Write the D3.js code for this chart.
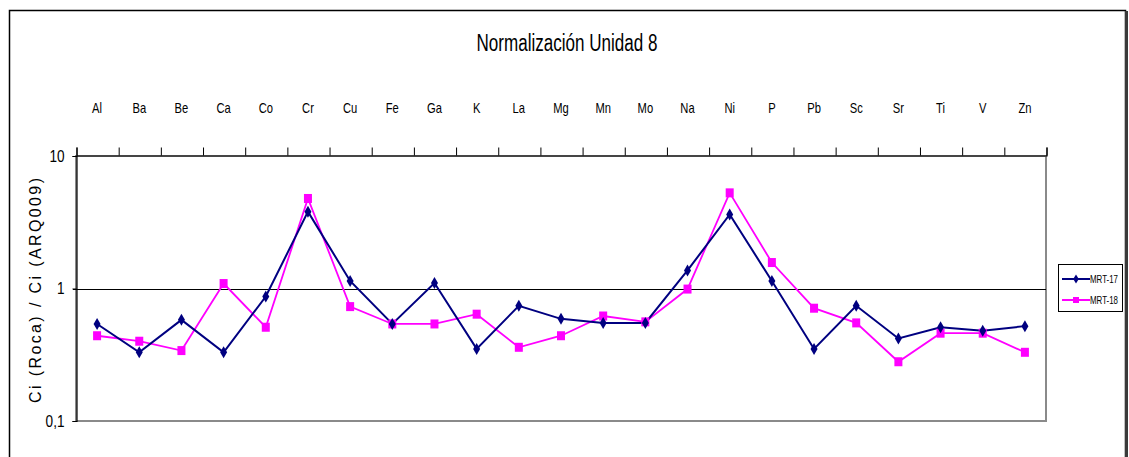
<!DOCTYPE html>
<html>
<head>
<meta charset="utf-8">
<script src="https://cdn.jsdelivr.net/npm/d3@7"></script>
<style>
  body { margin: 0; background: #fff; }
  text { font-family: "Liberation Sans Narrow", "Arial Narrow", "Liberation Sans", Arial, sans-serif; }
</style>
</head>
<body>
<div id="chart"></div>
<script>
// element labels along the top axis
const elements = ['Al', 'Ba', 'Be', 'Ca', 'Co', 'Cr', 'Cu', 'Fe', 'Ga', 'K', 'La', 'Mg', 'Mn', 'Mo',
    'Na', 'Ni', 'P', 'Pb', 'Sc', 'Sr', 'Ti', 'V', 'Zn'];

// Ci(Roca) / Ci(ARQ009)
const mrt17 = [0.54, 0.33, 0.58, 0.33, 0.87, 3.8, 1.14, 0.54, 1.10, 0.35, 0.74, 0.59, 0.55, 0.55,
    1.37, 3.62, 1.14, 0.35, 0.74, 0.42, 0.51, 0.48, 0.52];
const mrt18 = [0.44, 0.40, 0.34, 1.09, 0.51, 4.78, 0.73, 0.54, 0.54, 0.64, 0.36, 0.44, 0.62, 0.56,
    0.99, 5.27, 1.57, 0.71, 0.55, 0.28, 0.46, 0.46, 0.33];

const yTicks = [0.1, 1, 10];
const seriesNames = ['MRT-17', 'MRT-18'];

const width = 1129, height = 457;
const plot = { left: 76, right: 1046, top: 156, bottom: 421 };
const narrow = 0.8;   // no narrow font installed, squeeze text instead

const svg = d3.select('#chart').append('svg')
    .attr('width', width)
    .attr('height', height);

// outer chart frame
svg.append('rect')
    .attr('x', 9.5).attr('y', 10.5)
    .attr('width', 1116).attr('height', 470)
    .attr('fill', 'none')
    .attr('stroke', '#000')
    .attr('stroke-width', 1.5);
svg.append('line')
    .attr('x1', 1126.5).attr('x2', 1126.5)
    .attr('y1', 11).attr('y2', height)
    .attr('stroke', '#3a3a3a')
    .attr('stroke-width', 3);

// title
svg.append('text')
    .attr('x', 567).attr('y', 51)
    .attr('text-anchor', 'middle')
    .attr('font-size', '23px')
    .attr('textLength', 181)
    .attr('lengthAdjust', 'spacingAndGlyphs')
    .text('Normalización Unidad 8');

// scales
const x = d3.scaleBand()
    .domain(elements)
    .range([plot.left, plot.right]);
const xEdge = d3.scaleLinear()
    .domain([0, elements.length])
    .range([plot.left, plot.right]);
const y = d3.scaleLog()
    .domain([0.1, 10])
    .range([plot.bottom, plot.top]);
const cx = d => x(d) + x.bandwidth() / 2;

// plot area border (grey)
svg.append('rect')
    .attr('x', plot.left).attr('y', plot.top)
    .attr('width', plot.right - plot.left).attr('height', plot.bottom - plot.top)
    .attr('fill', 'none')
    .attr('stroke', '#8a8a8a')
    .attr('stroke-width', 2);

// gridline at 1
svg.append('line')
    .attr('x1', plot.left - 3).attr('x2', plot.right)
    .attr('y1', Math.round(y(1)) + 0.5).attr('y2', Math.round(y(1)) + 0.5)
    .attr('stroke', '#000')
    .attr('stroke-width', 1);

// top category axis: boundary ticks
const edgeAxis = svg.append('g')
    .attr('transform', `translate(0.5,${plot.top - 0.5})`)
    .call(d3.axisTop(xEdge).tickValues(d3.range(elements.length + 1)).tickSize(8).tickFormat(''));
edgeAxis.select('.domain').attr('stroke', '#000').attr('stroke-width', 1.2);
edgeAxis.selectAll('.tick line').attr('stroke', '#000');

// top category axis: labels in the middle of each band
const labelAxis = svg.append('g')
    .attr('transform', `translate(0,${plot.top})`)
    .call(d3.axisTop(x).tickSize(0).tickPadding(43));
labelAxis.select('.domain').remove();
labelAxis.selectAll('text')
    .attr('font-size', '14px')
    .attr('fill', '#000')
    .attr('transform', `scale(${narrow},1)`);

// left log axis
const yAxis = svg.append('g')
    .attr('transform', `translate(${plot.left + 0.5},0)`)
    .call(d3.axisLeft(y).tickValues(yTicks).tickSize(4).tickPadding(8)
        .tickFormat(d => String(d).replace('.', ',')));
yAxis.select('.domain').attr('stroke', '#000').attr('stroke-width', 1.2);
yAxis.selectAll('.tick line').attr('stroke', '#000');
yAxis.selectAll('text')
    .attr('font-size', '17px')
    .attr('fill', '#000')
    .attr('x', -12 / narrow)
    .attr('transform', `scale(${narrow},1)`);

// y axis title
svg.append('text')
    .attr('transform', `translate(41,${(plot.top + plot.bottom) / 2 + 2}) rotate(-90)`)
    .attr('text-anchor', 'middle')
    .attr('font-size', '16px')
    .attr('textLength', 225)
    .attr('lengthAdjust', 'spacing')
    .text('Ci (Roca) / Ci (ARQ009)');

// series
const line = d3.line()
    .x((d, i) => cx(elements[i]))
    .y(d => y(d));

const diamond = 'M0,-6L3.5,0L0,6L-3.5,0Z';

svg.append('path')
    .datum(mrt18)
    .attr('d', line)
    .attr('fill', 'none')
    .attr('stroke', '#ff00ff')
    .attr('stroke-width', 1.8);

svg.append('path')
    .datum(mrt17)
    .attr('d', line)
    .attr('fill', 'none')
    .attr('stroke', '#000080')
    .attr('stroke-width', 2);

svg.selectAll('.m18')
    .data(mrt18)
    .enter().append('rect')
    .attr('class', 'm18')
    .attr('x', (d, i) => cx(elements[i]) - 4)
    .attr('y', d => y(d) - 4.5)
    .attr('width', 8)
    .attr('height', 9)
    .attr('fill', '#ff00ff');

svg.selectAll('.m17')
    .data(mrt17)
    .enter().append('path')
    .attr('class', 'm17')
    .attr('d', diamond)
    .attr('transform', (d, i) => `translate(${cx(elements[i])},${y(d)})`)
    .attr('fill', '#000080');

// legend
const legend = svg.append('g').attr('transform', 'translate(1058,264)');
legend.append('rect')
    .attr('x', 0.5).attr('y', 0.5)
    .attr('width', 64).attr('height', 47)
    .attr('fill', '#fff')
    .attr('stroke', '#000')
    .attr('stroke-width', 1);

const legendRows = legend.selectAll('.row')
    .data(seriesNames)
    .enter().append('g')
    .attr('class', 'row')
    .attr('transform', (d, i) => `translate(0,${15 + i * 21})`);

legendRows.append('line')
    .attr('x1', 4).attr('x2', 32)
    .attr('stroke', (d, i) => i === 0 ? '#000080' : '#ff00ff')
    .attr('stroke-width', 2);

legendRows.append('path')
    .attr('d', (d, i) => i === 0 ? 'M0,-4.5L2.8,0L0,4.5L-2.8,0Z' : 'M-3,-3L3,-3L3,3L-3,3Z')
    .attr('transform', 'translate(18,0)')
    .attr('fill', (d, i) => i === 0 ? '#000080' : '#ff00ff');

legendRows.append('text')
    .attr('x', 32).attr('y', 4)
    .attr('font-size', '11px')
    .attr('textLength', 28)
    .attr('lengthAdjust', 'spacingAndGlyphs')
    .text(d => d);
</script>
</body>
</html>
